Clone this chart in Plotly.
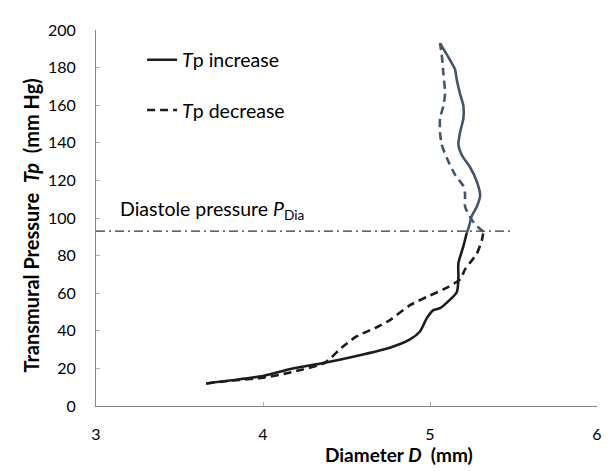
import plotly.graph_objects as go

# Tp increase (solid)
inc_D = [3.66, 4.00, 4.17, 4.37, 4.56, 4.76, 4.88, 4.94, 4.98, 5.02, 5.06, 5.16, 5.17, 5.17, 5.20, 5.22,
         5.235, 5.25, 5.28, 5.30, 5.28, 5.24, 5.19, 5.17, 5.18, 5.20, 5.20, 5.18, 5.16, 5.15, 5.12, 5.08, 5.06]
inc_P = [12, 16, 19.8, 23, 26.6, 31, 35.4, 39.6, 46.6, 51, 52, 60.5, 67.5, 76, 85, 92,
         96, 101, 106, 112, 119.5, 127, 133.5, 139, 145.5, 153, 159.6, 166, 173.7, 179, 184, 190, 193]

# Tp decrease (dashed)
dec_D = [3.66, 3.81, 4.00, 4.17, 4.37, 4.47, 4.56, 4.69, 4.76, 4.88, 4.98, 5.08, 5.18, 5.21, 5.28, 5.31, 5.32,
         5.29, 5.25, 5.21, 5.21, 5.20, 5.15, 5.10, 5.07, 5.06, 5.06, 5.08, 5.09, 5.08, 5.07, 5.06]
dec_P = [12, 13.5, 15, 18, 23, 31, 37, 42.3, 45.7, 53.6, 58, 62, 67.3, 72.7, 81, 88, 92.7,
         95, 99, 106, 112.7, 117, 123, 132, 139, 145.5, 153, 159.6, 166, 177, 187, 193]

P_DIA = 93
DIA_LINE_D = [3, 5.5]

x_ticks = [3, 4, 5, 6]
y_ticks = [0, 20, 40, 60, 80, 100, 120, 140, 160, 180, 200]

BLACK = "#1c1c1c"
GREY = "#44546A"
FONT = "Lato"


def split(D, P, limit):
    lo_D, lo_P, hi_D, hi_P = [], [], [], []
    for i, (d, p) in enumerate(zip(D, P)):
        if p <= limit:
            lo_D.append(d); lo_P.append(p)
        if p >= limit or (i + 1 < len(P) and P[i + 1] > limit and p <= limit):
            hi_D.append(d); hi_P.append(p)
    return lo_D, lo_P, hi_D, hi_P


fig = go.Figure()

# diastole line
fig.add_trace(go.Scatter(x=DIA_LINE_D, y=[P_DIA, P_DIA], mode="lines",
                         line=dict(color="#333333", width=1.3, dash="9px,4px,2px,4px"),
                         showlegend=False, hoverinfo="skip"))

ilD, ilP, ihD, ihP = split(inc_D, inc_P, P_DIA)
dlD, dlP, dhD, dhP = split(dec_D, dec_P, P_DIA)

fig.add_trace(go.Scatter(x=ihD, y=ihP, mode="lines", line=dict(color=GREY, width=2.6, shape="spline", smoothing=0.6),
                         showlegend=False))
fig.add_trace(go.Scatter(x=dhD, y=dhP, mode="lines",
                         line=dict(color=GREY, width=2.6, dash="8px,5px", shape="spline", smoothing=0.6),
                         showlegend=False))
fig.add_trace(go.Scatter(x=ilD, y=ilP, mode="lines", name="<i>T</i>p increase", legendgroup="a",
                         line=dict(color=BLACK, width=2.6, shape="spline", smoothing=0.6)))
fig.add_trace(go.Scatter(x=dlD, y=dlP, mode="lines", name="<i>T</i>p decrease", legendgroup="b",
                         line=dict(color=BLACK, width=2.6, dash="8px,5px", shape="spline", smoothing=0.6)))

axis_common = dict(showgrid=False, zeroline=False, showline=True, linecolor="#868686", linewidth=1,
                   ticks="inside", ticklen=4, tickcolor="#b0b0b0", tickwidth=1,
                   tickfont=dict(family=FONT, size=16, color="#000000"))

fig.update_xaxes(range=[3, 6], tickvals=x_ticks, ticktext=[str(v) for v in x_ticks],
                 ticklabelstandoff=14, **axis_common)
fig.update_yaxes(range=[0, 200], tickvals=y_ticks, ticktext=[str(v) for v in y_ticks],
                 ticklabelstandoff=16, **axis_common)

fig.update_layout(
    width=606, height=463,
    margin=dict(l=88, r=12, t=14, b=65),
    paper_bgcolor="white", plot_bgcolor="white",
    font=dict(family=FONT, size=16, color="#000000"),
    legend=dict(x=0.092, y=0.972, xanchor="left", yanchor="top", bgcolor="rgba(0,0,0,0)",
                font=dict(family=FONT, size=19.5), tracegroupgap=22),
    annotations=[
        dict(text="Diastole pressure <i>P</i><sub>Dia</sub>", x=3.13, y=104, xref="x", yref="y",
             xanchor="left", yanchor="middle", showarrow=False, font=dict(family=FONT, size=19.5)),
        dict(text="<b>Diameter <i>D</i>  (mm)</b>", x=(402 - 96) / 506, y=(406 - 456) / 384, xref="paper", yref="paper",
             xanchor="center", yanchor="middle", showarrow=False, font=dict(family=FONT, size=19)),
        dict(text="<b>Transmural Pressure  <i>Tp</i>  (mm Hg)</b>", x=-(96 - 30) / 506, y=(406 - 222) / 384,
             xref="paper", yref="paper", xanchor="center", yanchor="middle", textangle=-90,
             showarrow=False, font=dict(family=FONT, size=20)),
    ],
)

fig.write_html("out.html")
